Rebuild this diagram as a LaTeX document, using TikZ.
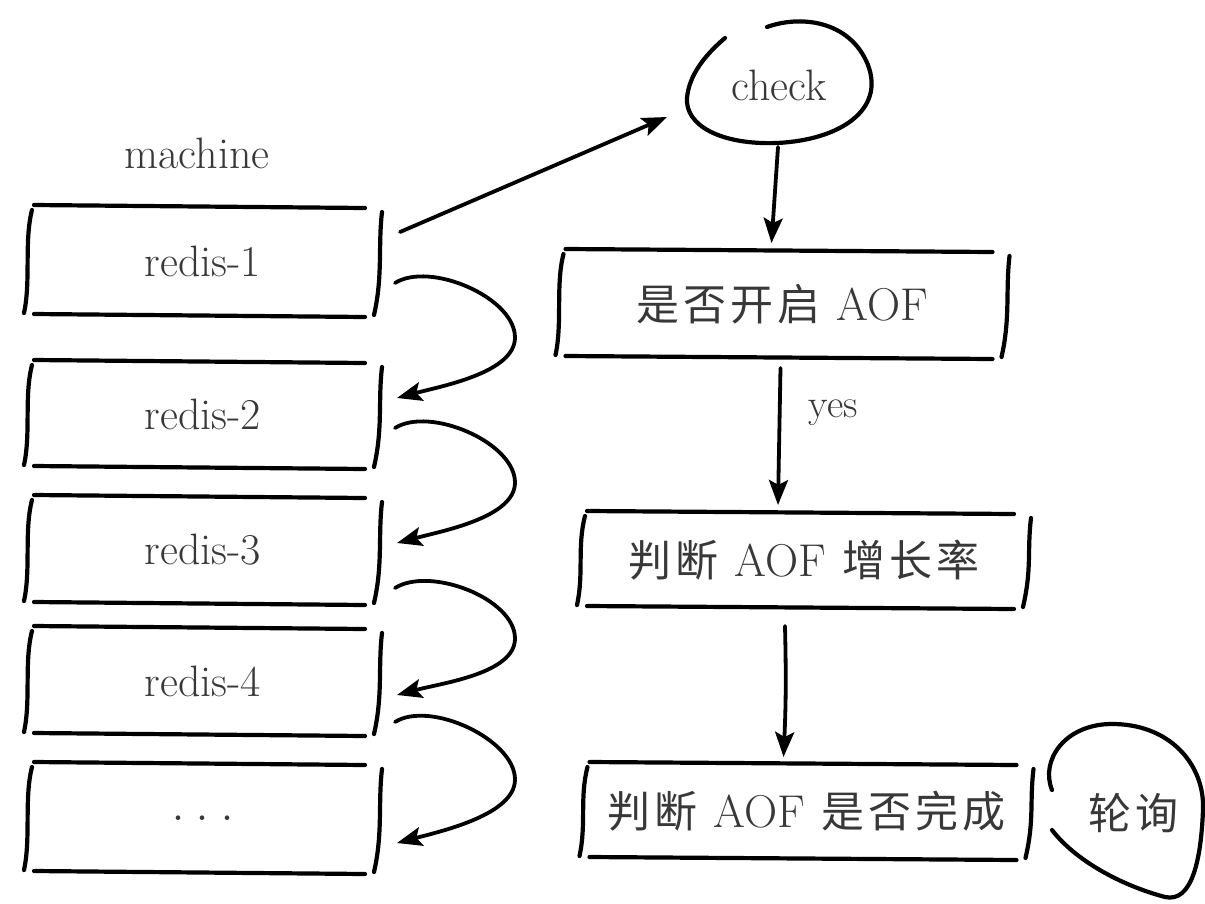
\documentclass[tikz,border=0pt]{standalone}
\usepackage{fontspec}
\newfontfamily\cjk{Noto Sans CJK SC}
\usetikzlibrary{arrows.meta,calc}
\newcommand\zh[1]{{\cjk\fontsize{43}{50}\selectfont #1}}
\newcommand\cs{\hspace{4pt}}
\newcommand\ws{\hspace{16pt}}
\tikzset{
  sk/.style={line width=4.2pt, line cap=round, black},
  arr/.style={line width=3.8pt, line cap=round, -{Stealth[length=25pt,width=19pt,inset=5pt]}},
  txt/.style={text=black!78, font=\fontsize{44}{52}\selectfont},
  zhtxt/.style={text=black!78, font=\fontsize{46}{54}\selectfont},
  lbox/.style={txt, inner sep=0pt, outer sep=0pt, minimum width=352pt},
  rbox/.style={zhtxt, inner sep=0pt, outer sep=0pt, minimum width=448pt}
}
\newcommand\skbox[1]{%
  \draw[sk] ($(#1.north west)+(7,-1)$) -- ($(#1.north east)+(-14,2)$);
  \draw[sk] ($(#1.south west)+(7,-2)$) -- ($(#1.south east)+(-14,1)$);
  \draw[sk] ($(#1.north west)+(5,4)$) .. controls ($(#1.north west)+(-3,35)$) and ($(#1.south west)+(4,-35)$) .. ($(#1.south west)+(-3,-3)$);
  \draw[sk] ($(#1.north east)+(3,6)$) .. controls ($(#1.north east)+(-1,40)$) and ($(#1.south east)+(4,-40)$) .. ($(#1.south east)+(-5,-1)$);
}
\newcommand\hop[4]{%
  \coordinate (hs) at ($(#1.south east)+(16,-#3)$);
  \coordinate (he) at ($(#2.north east)+(18,#4)$);
  \coordinate (hm) at ($(hs)!0.5!(he)+(119,-3)$);
  \draw[arr] (hs) .. controls +(35,-22) and +(0,-40) .. (hm) .. controls +(0,35) and +(45,-12) .. (he);
}
\begin{document}
\begin{tikzpicture}[x=1pt,y=-1pt]
\useasboundingbox (0,0) rectangle (1205,903);
\fill[white] (0,0) rectangle (1205,903);

% left column
\node[txt] (mach) at (197,153) {machine};
\node[lbox, minimum height=110pt] (r1) at (203,261) {redis-1};
\node[lbox, minimum height=107pt] (r2) at (203,414.5) {redis-2};
\node[lbox, minimum height=108pt] (r3) at (203,550) {redis-3};
\node[lbox, minimum height=108pt] (r4) at (203,681) {redis-4};
\node[lbox, minimum height=110pt] (r5) at (203,818) {};
\node[txt, font=\fontsize{56}{60}\selectfont] (dots) at (r5.center) {.\hspace{11pt}.\hspace{11pt}.};
\skbox{r1}\skbox{r2}\skbox{r3}\skbox{r4}\skbox{r5}

% right column
\node[txt] (ck) at (779,85) {check};
\draw[sk] (767,27) .. controls (800,15) and (850,20) .. (868,65)
  .. controls (885,110) and (840,140) .. (777,143)
  .. controls (720,145) and (685,125) .. (687,98)
  .. controls (689,75) and (705,55) .. (725,38);

\node[rbox, minimum height=108pt] (b1) at (782.5,304)
  {\zh{是}\cs\zh{否}\cs\zh{开}\cs\zh{启}\ws AOF};
\node[rbox, minimum height=96pt] (b2) at (804,560)
  {\zh{判}\cs\zh{断}\ws AOF\ws\zh{增}\cs\zh{长}\cs\zh{率}};
\node[rbox, minimum height=96pt] (b3) at (806.5,811)
  {\zh{判}\cs\zh{断}\ws AOF\ws\zh{是}\cs\zh{否}\cs\zh{完}\cs\zh{成}};
\skbox{b1}\skbox{b2}\skbox{b3}

\node[zhtxt] (ln) at (1133,813) {\zh{轮}\cs\zh{询}};
\draw[sk] (1052,790) .. controls (1040,760) and (1065,725) .. (1110,724)
  .. controls (1170,723) and (1205,765) .. (1203,810)
  .. controls (1201,860) and (1192,903) .. (1165,897)
  .. controls (1120,885) and (1075,860) .. (1052,830);

% connectors
\draw[arr] ($(r1.north east)+(21,26)$) -- ($(ck.center)+(-112,32)$);
\draw[arr] ($(ck.center)+(-1,62)$) -- ($(b1.north)+(-11,-7)$);
\draw[arr] ($(b1.south)+(-2,10)$) -- node[txt, font=\fontsize{40}{48}\selectfont, pos=0.33, anchor=west, xshift=24pt] (yes) {yes} ($(b2.north)+(-26,-7)$);
\draw[arr] ($(b2.south)+(-19,18)$) to[bend left=2] ($(b3.north)+(-23,-6)$);

\hop{r1}{r2}{33}{37}
\hop{r2}{r3}{40}{47}
\hop{r3}{r4}{16}{68}
\hop{r4}{r5}{13}{80}
\end{tikzpicture}
\end{document}
